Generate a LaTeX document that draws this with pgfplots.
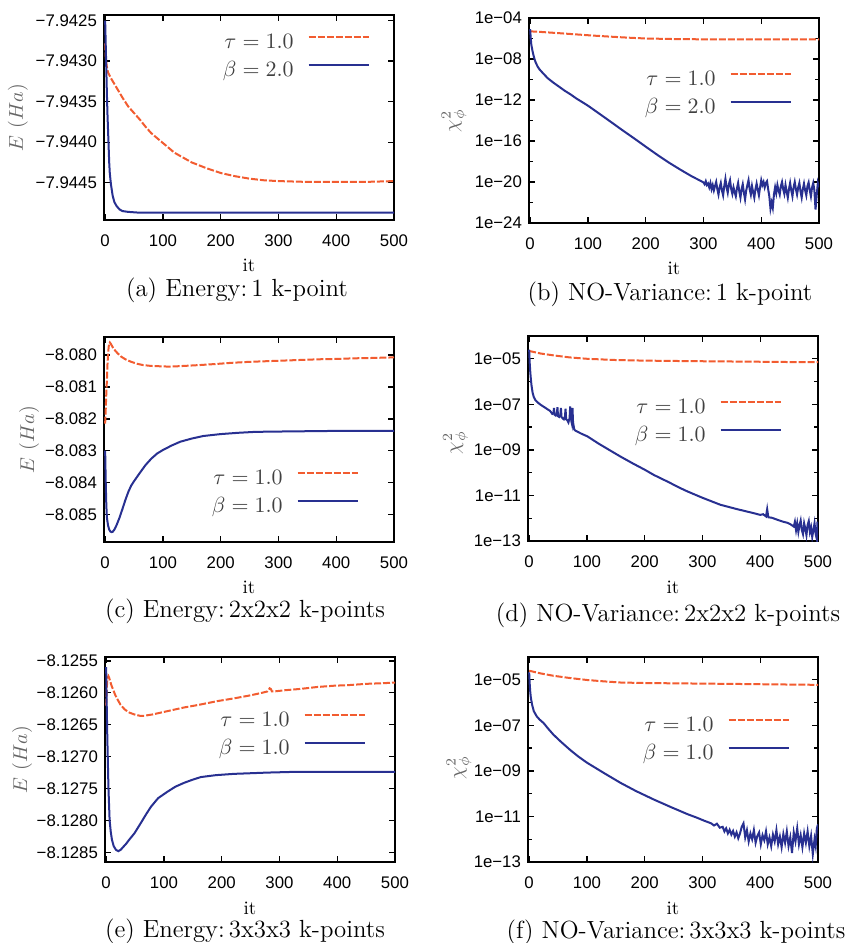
\documentclass[border=0pt]{standalone}
\usepackage{fontspec}
\usepackage{pgfplots}
\pgfplotsset{compat=1.18}
\newfontfamily\ticksf{Liberation Sans}
\definecolor{ora}{RGB}{242,92,48}
\definecolor{blu}{RGB}{40,48,145}
\pgfplotsset{
  base/.style={scale only axis, width=145pt, height=102.5pt, xmin=-2, xmax=500,
    xtick={0,100,200,300,400,500}, xticklabels={0,100,200,300,400,500},
    tick label style={font=\ticksf\fontsize{8.4}{9}\selectfont},
    xticklabel style={yshift=-4pt},
    axis line style={line width=1pt},
    tick style={black, line width=0.7pt},
    major tick length=3pt, minor tick length=1.8pt,
    xlabel={it},
    xlabel style={at={(rel axis cs:0.5,0)}, anchor=base, yshift=-26pt, font=\fontsize{9.5}{10}\selectfont},
    ylabel style={font=\fontsize{10.4}{12}\selectfont, text=black!60, anchor=center},
    legend plot pos=right, legend cell align=right,
    legend image code/.code={\draw[##1] (0pt,2.7pt) -- (30pt,2.7pt);},
    legend style={draw=none, fill=none, inner sep=0pt, row sep=4pt, column sep=7pt,
      font=\fontsize{11}{13}\selectfont, text=black!75,
      nodes={inner sep=0pt, text height=8pt, text depth=2pt}, anchor=north east},
  },
  tau/.style={ora, line width=1pt, dash pattern=on 3.5pt off 1pt},
  bet/.style={blu, line width=1pt},
  logA/.style={ymin=1e-24, ymax=1e-4,
    ytick={1e-24,1e-20,1e-16,1e-12,1e-8,1e-4},
    yticklabels={1e−24,1e−20,1e−16,1e−12,1e−08,1e−04},
    minor ytick={1e-22,1e-18,1e-14,1e-10,1e-6}},
  logB/.style={ymin=1e-13, ymax=1e-4,
    ytick={1e-13,1e-11,1e-9,1e-7,1e-5},
    yticklabels={1e−13,1e−11,1e−09,1e−07,1e−05},
    minor ytick={1e-12,1e-10,1e-8,1e-6}},
}
\begin{document}
\begin{tikzpicture}
\path[use as bounding box] (0,0) rectangle (426.5pt,471.5pt);
% (a)
\begin{axis}[base, at={(52pt,361.5pt)}, anchor=south west,
  ymin=-7.94496, ymax=-7.94243,
  ytick={-7.9445,-7.944,-7.9435,-7.943,-7.9425},
  yticklabels={−7.9445,−7.9440,−7.9435,−7.9430,−7.9425},
  ylabel={$E\ (Ha)$}, ylabel style={at={(rel axis cs:-0.297,0.5)}},
  legend style={at={(rel axis cs:1,1)}, xshift=-12pt, yshift=-8.4pt}]
\addplot[tau] coordinates {(0,-7.94278)(1,-7.94294)(2,-7.94302)(3,-7.94307)(5,-7.94314)(10,-7.94321)(20,-7.94333)(30,-7.94345)(40,-7.94356)(50,-7.94364)(60,-7.94372)(70,-7.94381)(80,-7.94389)(90,-7.94395)(100,-7.94401)(110,-7.94407)(120,-7.94413)(135,-7.94419)(150,-7.94425)(175,-7.94432)(200,-7.94438)(225,-7.94442)(250,-7.94445)(275,-7.94447)(300,-7.94448)(350,-7.94449)(400,-7.94449)(450,-7.94449)(500,-7.94448)};
\addlegendentry{$\tau = 1.0$}
\addplot[bet] coordinates {(0,-7.94250)(1,-7.94280)(2,-7.94310)(3,-7.94340)(4,-7.94365)(5,-7.94385)(6,-7.94405)(7,-7.94425)(8,-7.94438)(10,-7.94452)(13,-7.94466)(16,-7.94474)(20,-7.94479)(25,-7.94483)(30,-7.94485)(40,-7.94486)(60,-7.94487)(100,-7.94487)(200,-7.94487)(300,-7.94487)(400,-7.94487)(500,-7.94487)};
\addlegendentry{$\beta = 2.0$}
\end{axis}
% (b)
\begin{semilogyaxis}[base, logA, at={(264.5pt,360pt)}, anchor=south west,
  ylabel={$\chi^2_\phi$}, ylabel style={at={(rel axis cs:-0.259,0.5)}},
  legend style={at={(rel axis cs:1,1)}, xshift=-13.5pt, yshift=-25.4pt}]
\addplot[tau] coordinates {(0,5.0e-6)(20,4.3e-6)(50,3.3e-6)(80,2.5e-6)(110,1.9e-6)(140,1.5e-6)(170,1.2e-6)(200,1.0e-6)(250,8.8e-7)(300,8.3e-7)(400,8.0e-7)(500,8.0e-7)};
\addlegendentry{$\tau = 1.0$}
\addplot[bet] coordinates {(0,8e-6)(1,1e-6)(2,2.5e-7)(4,6.3e-8)(6,2e-8)(8,8e-9)(10,4e-9)(13,1.8e-9)(16,1e-9)(20,5.6e-10)(25,2.8e-10)(30,1.4e-10)(40,5e-11)(50,2e-11)(60,7.9e-12)(70,3.5e-12)(80,1.4e-12)(90,6.3e-13)(100,2.8e-13)(120,4.5e-14)(140,7.1e-15)(160,1.1e-15)(180,1.8e-16)(200,2.8e-17)(220,4.5e-18)(240,7.9e-19)(260,1.6e-19)(280,3.5e-20)(295,1.3e-20)
(300,9e-21)(302,6e-21)(304,1.2e-20)(306,5e-21)(308,7e-21)(310,3e-21)(312,8e-21)(314,2e-21)(316,5e-21)(318,1.5e-21)(320,4e-21)(322,1e-20)(324,2e-21)(326,6e-22)(328,3e-21)(330,8e-21)(332,1.5e-21)(334,5e-22)(336,4e-21)(338,2e-20)(340,3e-21)(342,9e-22)(344,6e-21)(346,1.5e-20)(348,2e-21)(350,7e-22)(352,3e-21)(354,1e-21)(356,4e-22)(358,2.5e-21)(360,8e-21)(362,1.2e-21)(364,3e-22)(366,2e-21)(368,6e-21)(370,9e-22)(372,2e-22)(374,1.5e-21)(376,5e-21)(378,1.5e-20)(380,2e-21)(382,6e-22)(384,4e-21)(386,1e-21)(388,3e-22)(390,2e-21)(392,7e-21)(394,1.8e-21)(396,5e-22)(398,3e-21)(400,1.5e-20)(402,5e-21)(404,1e-20)(406,3e-21)(408,8e-21)(410,1.2e-20)(412,2e-21)(414,4e-22)(416,2.5e-23)(418,1e-22)(420,3e-23)(422,6e-22)(424,3e-21)(426,8e-22)(428,5e-21)(430,1.5e-21)(432,6e-22)(434,4e-21)(436,1e-20)(438,2e-21)(440,7e-22)(442,5e-21)(444,1.2e-21)(446,3e-22)(448,2e-21)(450,8e-21)(452,1.5e-21)(454,4e-22)(456,3e-21)(458,1e-20)(460,2e-21)(462,6e-22)(464,3e-21)(466,8e-21)(468,1.2e-21)(470,3e-22)(472,2e-21)(474,7e-21)(476,1.5e-21)(478,5e-22)(480,4e-21)(482,9e-21)(484,1.5e-21)(486,4e-22)(488,3e-21)(490,8e-21)(492,1.5e-21)(494,2e-23)(496,5e-22)(498,8e-21)(500,3e-21)};
\addlegendentry{$\beta = 2.0$}
\end{semilogyaxis}
% (c)
\begin{axis}[base, at={(52pt,200.5pt)}, anchor=south west,
  ymin=-8.08587, ymax=-8.07943,
  ytick={-8.085,-8.084,-8.083,-8.082,-8.081,-8.080},
  yticklabels={−8.085,−8.084,−8.083,−8.082,−8.081,−8.080},
  ylabel={$E\ (Ha)$}, ylabel style={at={(rel axis cs:-0.258,0.5)}},
  legend style={at={(rel axis cs:1,1)}, xshift=-17.5pt, yshift=-65.4pt}]
\addplot[tau] coordinates {(0,-8.08215)(1,-8.0817)(2,-8.0812)(3,-8.0808)(4,-8.0803)(5,-8.0800)(6,-8.07975)(7,-8.07963)(8,-8.07960)(10,-8.07965)(13,-8.07975)(17,-8.07985)(22,-8.07995)(28,-8.08005)(35,-8.08013)(45,-8.08021)(55,-8.08027)(65,-8.08031)(80,-8.08034)(95,-8.08035)(110,-8.08036)(125,-8.08035)(145,-8.08033)(165,-8.08031)(190,-8.08028)(220,-8.08024)(250,-8.08021)(280,-8.08019)(310,-8.08017)(340,-8.08015)(370,-8.08013)(400,-8.08012)(430,-8.08010)(460,-8.08009)(500,-8.08007)};
\addlegendentry{$\tau = 1.0$}
\addplot[bet] coordinates {(0,-8.0830)(1,-8.0840)(2,-8.0847)(3,-8.0851)(5,-8.08535)(7,-8.08548)(9,-8.08554)(11,-8.08556)(13,-8.08555)(16,-8.08548)(20,-8.08533)(25,-8.08510)(30,-8.08483)(35,-8.08455)(40,-8.08430)(45,-8.08410)(50,-8.08396)(60,-8.08370)(70,-8.08345)(80,-8.08325)(90,-8.08309)(100,-8.08298)(115,-8.08284)(130,-8.08272)(150,-8.08262)(170,-8.08254)(200,-8.08248)(230,-8.08244)(260,-8.08241)(300,-8.08240)(350,-8.08239)(400,-8.08238)(500,-8.08238)};
\addlegendentry{$\beta = 1.0$}
\end{axis}
% (d)
\begin{semilogyaxis}[base, logB, at={(264pt,201pt)}, anchor=south west,
  ylabel={$\chi^2_\phi$}, ylabel style={at={(rel axis cs:-0.25,0.48)}},
  legend style={at={(rel axis cs:1,1)}, xshift=-18pt, yshift=-30.4pt}]
\addplot[tau] coordinates {(0,2.2e-5)(20,1.7e-5)(43,1.4e-5)(70,1.15e-5)(100,1.0e-5)(150,8.8e-6)(200,8.3e-6)(274,7.9e-6)(350,7.6e-6)(400,7.4e-6)(450,7.2e-6)(500,7.1e-6)};
\addlegendentry{$\tau = 1.0$}
\addplot[bet] coordinates {(0,2.5e-5)(1,6.3e-6)(2,2.5e-6)(3,1.26e-6)(4,7e-7)(6,3.2e-7)(8,2.1e-7)(11,1.5e-7)(15,1.2e-7)(20,9.5e-8)(26,7.6e-8)(32,6e-8)(36,5.2e-8)(38,4.5e-8)(40,3.8e-8)(42,4.0e-8)(43,7.0e-8)(44,3.5e-8)(46,3.2e-8)(48,4.0e-8)(49,7.5e-8)(50,3.0e-8)(52,2.8e-8)(54,3.5e-8)(55,7.0e-8)(56,2.8e-8)(58,2.4e-8)(60,2.2e-8)(62,3.0e-8)(63,6.5e-8)(64,2.2e-8)(66,2.0e-8)(68,1.6e-8)(70,2.5e-8)(71,8.0e-8)(72,3.5e-8)(73,1.8e-8)(74,1.4e-8)(75,7e-8)(76,1.6e-8)(78,8e-9)(80,7.0e-9)(90,5.2e-9)(101,3.9e-9)(120,1.9e-9)(140,9.5e-10)(158,5.1e-10)(180,2.5e-10)(200,1.35e-10)(216,7.9e-11)(240,4e-11)(260,2.2e-11)(274,1.5e-11)(300,7.9e-12)(331,3.9e-12)(360,2.5e-12)(389,1.66e-12)(400,1.4e-12)(405,1.5e-12)(410,1.2e-12)(412,2.5e-12)(414,1.1e-12)(420,1.05e-12)(430,8.5e-13)(440,7e-13)(447,6.3e-13)(452,5.5e-13)(458,4.3e-13)(460,7e-13)(462,3e-13)(464,6e-13)(466,2.5e-13)(468,5e-13)(470,8e-13)(472,3e-13)(474,2e-13)(476,6e-13)(478,3.5e-13)(480,1.8e-13)(482,5e-13)(484,7.5e-13)(486,2.5e-13)(488,4e-13)(490,1.5e-13)(492,3e-13)(494,6e-13)(496,2e-13)(498,1.2e-13)(499,7e-13)(500,3e-13)};
\addlegendentry{$\beta = 1.0$}
\end{semilogyaxis}
% (e)
\begin{axis}[base, at={(52.5pt,40.5pt)}, anchor=south west,
  ymin=-8.12865, ymax=-8.12544,
  ytick={-8.1285,-8.128,-8.1275,-8.127,-8.1265,-8.126,-8.1255},
  yticklabels={−8.1285,−8.1280,−8.1275,−8.1270,−8.1265,−8.1260,−8.1255},
  ylabel={$E\ (Ha)$}, ylabel style={at={(rel axis cs:-0.286,0.5)}},
  legend style={at={(rel axis cs:1,1)}, xshift=-14.5pt, yshift=-26.4pt}]
\addplot[tau] coordinates {(0,-8.12620)(1,-8.12595)(2,-8.12580)(3,-8.12576)(4,-8.12574)(5,-8.12576)(7,-8.12582)(9,-8.12588)(12,-8.12595)(16,-8.12604)(20,-8.12611)(25,-8.12619)(32,-8.12626)(40,-8.12631)(49,-8.12634)(58,-8.12636)(66,-8.12636)(80,-8.12634)(95,-8.12631)(115,-8.12627)(135,-8.12623)(160,-8.12619)(193,-8.12613)(220,-8.12609)(250,-8.12604)(270,-8.12600)(279,-8.12598)(281,-8.12596)(283,-8.12593)(285,-8.12594)(287,-8.12598)(290,-8.12598)(310,-8.12596)(336,-8.12594)(365,-8.12591)(394,-8.12589)(420,-8.12588)(451,-8.12586)(480,-8.12585)(500,-8.12584)};
\addlegendentry{$\tau = 1.0$}
\addplot[bet] coordinates {(0,-8.1256)(1,-8.1262)(2,-8.1267)(3,-8.1271)(4,-8.1275)(5,-8.12775)(6,-8.1280)(8,-8.12818)(10,-8.12830)(13,-8.12840)(17,-8.12846)(21,-8.12848)(25,-8.12846)(30,-8.12841)(35,-8.12836)(40,-8.12830)(49,-8.12820)(60,-8.12804)(70,-8.12789)(78,-8.12778)(90,-8.12765)(106,-8.12755)(120,-8.12747)(135,-8.12741)(150,-8.12736)(164,-8.12732)(190,-8.12729)(221,-8.12727)(250,-8.12726)(279,-8.12725)(320,-8.12724)(400,-8.12724)(500,-8.12724)};
\addlegendentry{$\beta = 1.0$}
\end{axis}
% (f)
\begin{semilogyaxis}[base, logB, at={(264pt,40.5pt)}, anchor=south west,
  ylabel={$\chi^2_\phi$}, ylabel style={at={(rel axis cs:-0.238,0.46)}},
  legend style={at={(rel axis cs:1,1)}, xshift=-14pt, yshift=-28.9pt}]
\addplot[tau] coordinates {(0,2.5e-5)(20,1.9e-5)(42,1.5e-5)(70,1.2e-5)(100,9.8e-6)(130,8.5e-6)(158,7.6e-6)(200,7.2e-6)(274,6.9e-6)(350,6.6e-6)(420,6.3e-6)(500,6.0e-6)};
\addlegendentry{$\tau = 1.0$}
\addplot[bet] coordinates {(0,2.1e-5)(1,6.3e-6)(2,2.75e-6)(3,1.6e-6)(5,8.3e-7)(8,4.2e-7)(13,2.5e-7)(18,1.8e-7)(25,1.26e-7)(33,7.1e-8)(42,3.9e-8)(55,1.9e-8)(71,8.3e-9)(85,4.3e-9)(100,2.3e-9)(130,7.9e-10)(158,3e-10)(185,1.3e-10)(216,5.5e-11)(245,2.6e-11)(274,1.26e-11)(290,8.9e-12)(303,6.5e-12)(315,5e-12)(320,4.0e-12)(325,4.8e-12)(330,3.2e-12)(335,3.5e-12)(338,2.2e-12)(341,3.0e-12)(344,1.8e-12)(347,2.6e-12)(350,1.6e-12)(353,2.3e-12)(356,1.3e-12)(359,2.0e-12)(362,1.1e-12)(365,1.8e-12)(368,3.5e-12)(371,5e-12)(374,1.2e-12)(377,2.5e-12)(380,8e-13)(383,1.8e-12)(386,1.0e-12)(389,2.5e-12)(392,7e-13)(395,1.4e-12)(398,2.0e-12)(401,6e-13)(404,1.5e-12)(407,9e-13)(410,2.2e-12)(413,6e-13)(416,1.2e-12)(419,5e-13)(422,1.6e-12)(425,8e-13)(428,2.5e-12)(431,6e-13)(434,1.3e-12)(437,4.5e-13)(440,1.7e-12)(443,7e-13)(446,2.2e-12)(449,5e-13)(452,1.2e-12)(455,2.5e-13)(458,2.0e-12)(461,8e-13)(464,3e-12)(467,6e-13)(470,1.5e-12)(473,4.5e-13)(476,1.8e-12)(479,7e-13)(482,2.2e-12)(485,5e-13)(488,1.4e-12)(491,2.2e-13)(494,1.0e-12)(496,5e-13)(498,3e-12)(500,4.5e-12)};
\addlegendentry{$\beta = 1.0$}
\end{semilogyaxis}
% captions
\begin{scope}[every node/.style={anchor=base, font=\fontsize{12.4}{14}\selectfont, inner sep=0pt}]
\node at (118.5pt,323pt) {(a) Energy:\,1 k-point};
\node at (335pt,321pt) {(b) NO-Variance:\,1 k-point};
\node at (122.5pt,162.5pt) {(c) Energy:\,2x2x2 k-points};
\node at (334pt,160.5pt) {(d) NO-Variance:\,2x2x2 k-points};
\node at (122.5pt,2.5pt) {(e) Energy:\,3x3x3 k-points};
\node at (338pt,2pt) {(f) NO-Variance:\,3x3x3 k-points};
\end{scope}
\end{tikzpicture}
\end{document}
